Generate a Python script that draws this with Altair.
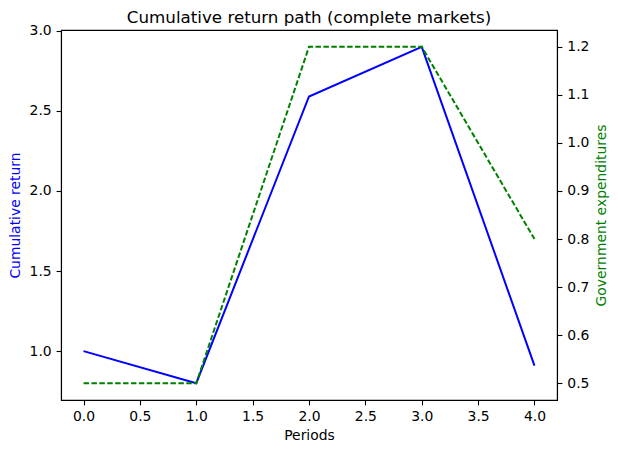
import altair as alt
import pandas as pd

periods = [0, 1, 2, 3, 4]
cumulative_return = [1.0, 0.8, 2.59, 2.9, 0.91]
gov_exp = [0.5, 0.5, 1.2, 1.2, 0.8]

x_ticks = [0.0, 0.5, 1.0, 1.5, 2.0, 2.5, 3.0, 3.5, 4.0]
left_ticks = [1.0, 1.5, 2.0, 2.5, 3.0]
right_ticks = [0.5, 0.6, 0.7, 0.8, 0.9, 1.0, 1.1, 1.2]

df = pd.DataFrame({"period": periods, "ret": cumulative_return, "gov": gov_exp})

FONT = "DejaVu Sans"
FS = 13.9

xenc = alt.X("period:Q",
             scale=alt.Scale(domain=[-0.2, 4.2], nice=False, zero=False),
             axis=alt.Axis(values=x_ticks, format=".1f", title="Periods",
                           titleY=35, titleBaseline="middle"))

base = alt.Chart(df)

left = base.mark_line(color="#0000ff", strokeWidth=2).encode(
    x=xenc,
    y=alt.Y("ret:Q",
            scale=alt.Scale(domain=[0.695, 3.005], nice=False, zero=False),
            axis=alt.Axis(values=left_ticks, format=".1f", orient="left",
                          title="Cumulative return", titleColor="#0000ff",
                          titleX=-46, titleY=185, titleBaseline="middle",
                          titleAngle=270)),
)

right = base.mark_line(color="#008000", strokeWidth=2, strokeDash=[5.5, 2.4]).encode(
    x=xenc,
    y=alt.Y("gov:Q",
            scale=alt.Scale(domain=[0.465, 1.235], nice=False, zero=False),
            axis=alt.Axis(values=right_ticks, format=".1f", orient="right",
                          title="Government expenditures", titleColor="#008000",
                          titleX=44, titleY=185, titleBaseline="middle",
                          titleAngle=270)),
)

chart = alt.layer(left, right).resolve_scale(y="independent").properties(
    width=496, height=370,
    title=alt.TitleParams("Cumulative return path (complete markets)",
                          font=FONT, fontSize=16.7, fontWeight="normal",
                          color="black", baseline="alphabetic", offset=11,
                          anchor="middle", frame="group", dy=27),
    autosize=alt.AutoSizeParams(type="none"),
    padding={"left": 53, "top": 22, "right": 53, "bottom": 45},
    background="white",
).configure_view(
    stroke="black", strokeWidth=1.1
).configure_axis(
    grid=False, domainColor="black", domainWidth=1.1, tickColor="black",
    tickWidth=1.1, tickSize=4.9, labelPadding=4.9, labelFont=FONT,
    labelFontSize=FS, labelColor="black", titleFont=FONT, titleFontSize=FS,
    titleFontWeight="normal", titleColor="black", labelFlush=False,
    labelOverlap=False
)

chart.save("out.html", embed_options={"renderer": "svg", "actions": False})
